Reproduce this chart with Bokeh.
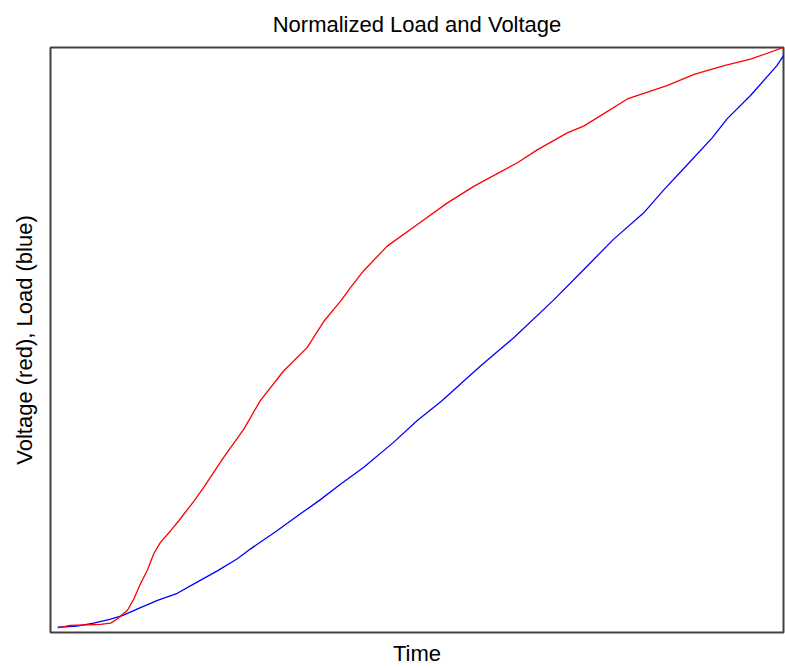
from bokeh.plotting import figure
from bokeh.models import Range1d, FixedTicker
from bokeh.embed import file_html
from bokeh.resources import INLINE

# Normalized data (0..1 on both axes)
time_voltage = [0.010, 0.027, 0.068, 0.082, 0.091, 0.105, 0.114, 0.123, 0.132, 0.141,
                0.150, 0.164, 0.175, 0.196, 0.209, 0.236, 0.264, 0.286, 0.318, 0.350,
                0.373, 0.396, 0.409, 0.427, 0.459, 0.500, 0.541, 0.578, 0.637, 0.664,
                0.705, 0.728, 0.787, 0.841, 0.878, 0.919, 0.955, 1.000]
voltage = [0.008, 0.012, 0.014, 0.016, 0.023, 0.038, 0.058, 0.084, 0.106, 0.135,
           0.154, 0.174, 0.191, 0.225, 0.248, 0.299, 0.348, 0.396, 0.447, 0.487,
           0.532, 0.567, 0.589, 0.618, 0.660, 0.697, 0.734, 0.763, 0.803, 0.825,
           0.854, 0.866, 0.912, 0.935, 0.954, 0.969, 0.980, 1.000]

time_load = [0.010, 0.036, 0.059, 0.082, 0.098, 0.118, 0.146, 0.173, 0.200, 0.227,
             0.255, 0.273, 0.309, 0.341, 0.366, 0.396, 0.427, 0.468, 0.500, 0.534,
             0.587, 0.632, 0.687, 0.728, 0.768, 0.809, 0.837, 0.869, 0.903, 0.923,
             0.955, 0.991, 1.000]
load = [0.009, 0.011, 0.016, 0.023, 0.029, 0.040, 0.055, 0.067, 0.086, 0.105,
        0.126, 0.143, 0.174, 0.203, 0.225, 0.254, 0.282, 0.325, 0.362, 0.396,
        0.456, 0.504, 0.569, 0.621, 0.672, 0.717, 0.757, 0.800, 0.846, 0.878,
        0.918, 0.969, 0.986]

title_text = "Normalized Load and Voltage"
x_label = "Time"
y_label = "Voltage (red), Load (blue)"

FONT = "Liberation Sans"
FONT_SIZE = "22px"

p = figure(width=785, height=668, output_backend="svg", toolbar_location=None,
           x_range=Range1d(0, 1), y_range=Range1d(0, 1),
           min_border_left=50, min_border_right=2, min_border_top=46,
           min_border_bottom=36, title=title_text)

p.title.align = "center"
p.title.vertical_align = "middle"
p.title.text_font = FONT
p.title.text_font_size = FONT_SIZE
p.title.text_font_style = "normal"
p.title.text_color = "#000000"
p.title.standoff = 20

p.background_fill_color = "white"
p.border_fill_color = "white"
p.outline_line_color = "#404040"
p.outline_line_width = 2
p.xgrid.visible = False
p.ygrid.visible = False

for ax in (p.xaxis[0], p.yaxis[0]):
    ax.ticker = FixedTicker(ticks=[])
    ax.major_tick_line_color = None
    ax.minor_tick_line_color = None
    ax.major_tick_in = 0
    ax.major_tick_out = 0
    ax.minor_tick_in = 0
    ax.minor_tick_out = 0
    ax.major_label_standoff = 0
    ax.axis_line_color = None
    ax.axis_label_text_font = FONT
    ax.axis_label_text_font_size = FONT_SIZE
    ax.axis_label_text_font_style = "normal"
    ax.axis_label_text_color = "#000000"

p.xaxis.axis_label = x_label
p.yaxis.axis_label = y_label
p.xaxis.axis_label_standoff = 8
p.yaxis.axis_label_standoff = 14

p.line(time_load, load, line_color="#0000ff", line_width=1.3)
p.line(time_voltage, voltage, line_color="#ff0000", line_width=1.3)

open("out.html", "w").write(file_html(p, INLINE))
